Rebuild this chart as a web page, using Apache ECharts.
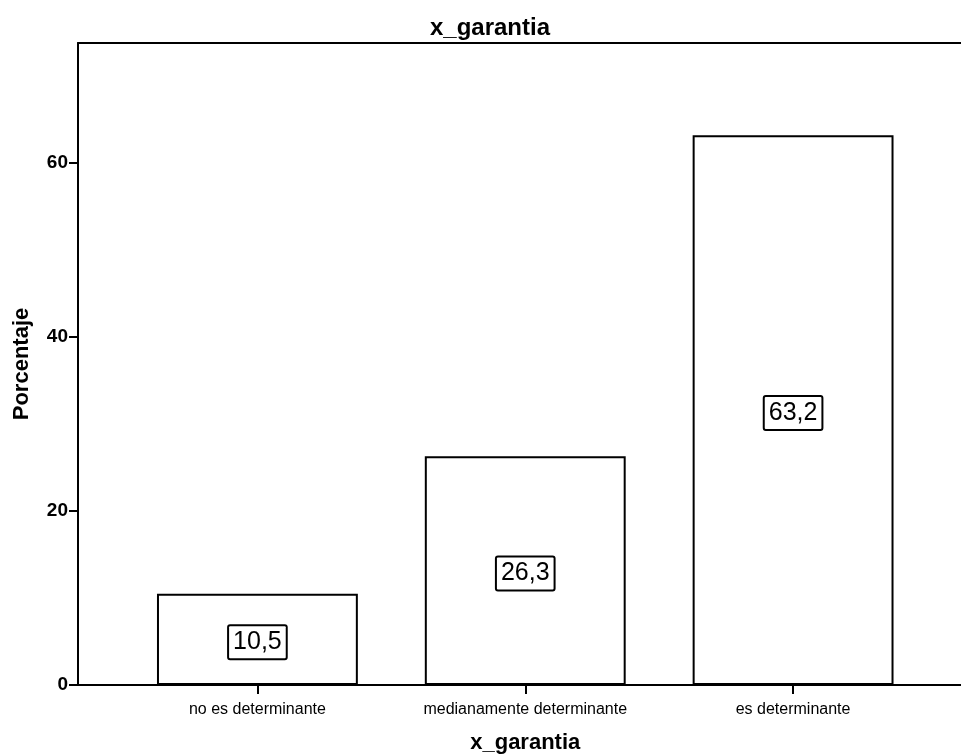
<!DOCTYPE html>
<html>
<head>
<meta charset="utf-8">
<script src="https://cdn.jsdelivr.net/npm/echarts@6/dist/echarts.min.js"></script>
<style>
html,body{margin:0;padding:0;background:#fff;}
#c{width:961px;height:755px;}
</style>
</head>
<body>
<div id="c"></div>
<script>
var categories = ['no es determinante', 'medianamente determinante', 'es determinante'];
var percentages = [10.5, 26.3, 63.2];
var yTicks = [0, 20, 40, 60];
var chartTitle = 'x_garantia';
var xTitle = 'x_garantia';
var yTitle = 'Porcentaje';

var FONT = 'Liberation Sans, Arial, sans-serif';
var Y_MAX = 73.8;

var chart = echarts.init(document.getElementById('c'), null, {renderer: 'canvas'});
chart.setOption({
  backgroundColor: '#ffffff',
  animation: false,
  title: {
    text: chartTitle,
    left: 485, top: 11,
    textAlign: 'center',
    textStyle: {fontFamily: FONT, fontWeight: 'bold', fontSize: 24, color: '#000'}
  },
  grid: [
    {left: 78, right: -10, top: 43, bottom: 70, show: false, outerBoundsMode: 'none', containLabel: false},
    {left: 123.5, right: 34, top: 43, bottom: 70, show: false, outerBoundsMode: 'none', containLabel: false}
  ],
  xAxis: [
    {gridIndex: 0, type: 'value', min: 0, max: 1, position: 'bottom',
     axisLine: {show: true, lineStyle: {color: '#000', width: 2}},
     axisTick: {show: false}, axisLabel: {show: false}, splitLine: {show: false}},
    {gridIndex: 0, type: 'value', min: 0, max: 1, position: 'top',
     axisLine: {show: true, onZero: false, lineStyle: {color: '#000', width: 2}},
     axisTick: {show: false}, axisLabel: {show: false}, splitLine: {show: false}},
    {gridIndex: 1, type: 'category', data: categories, position: 'bottom',
     name: xTitle, nameLocation: 'middle', nameGap: 47,
     nameTextStyle: {fontFamily: FONT, fontWeight: 'bold', fontSize: 22, color: '#000'},
     axisLine: {show: false},
     axisTick: {show: true, alignWithLabel: true, length: 9, lineStyle: {color: '#000', width: 2}},
     axisLabel: {show: true, margin: 17, fontFamily: FONT, fontSize: 16, color: '#000'},
     splitLine: {show: false}}
  ],
  yAxis: [
    {gridIndex: 0, type: 'value', min: 0, max: Y_MAX, interval: 20,
     name: yTitle, nameLocation: 'middle', nameRotate: 90, nameGap: 45,
     nameTextStyle: {fontFamily: FONT, fontWeight: 'bold', fontSize: 22, color: '#000'},
     axisLine: {show: true, lineStyle: {color: '#000', width: 2}},
     axisTick: {show: true, length: 9, lineStyle: {color: '#000', width: 2}},
     axisLabel: {show: true, margin: 10, fontFamily: FONT, fontWeight: 'bold', fontSize: 19, color: '#000',
       showMaxLabel: false,
       formatter: function (v) { return yTicks.indexOf(v) >= 0 ? String(v) : ''; }},
     splitLine: {show: false}},
    {gridIndex: 1, type: 'value', min: 0, max: Y_MAX, show: false, splitLine: {show: false}}
  ],
  series: [{
    type: 'bar',
    xAxisIndex: 2, yAxisIndex: 1,
    data: percentages,
    barWidth: '75%',
    itemStyle: {color: '#ffffff', borderColor: '#000', borderWidth: 2},
    label: {
      show: true, position: 'inside',
      formatter: function (p) { return p.value.toFixed(1).replace('.', ','); },
      fontFamily: FONT, fontSize: 25, color: '#000',
      backgroundColor: '#fff', borderColor: '#000', borderWidth: 2, borderRadius: 1,
      padding: [4, 4, 3, 4], offset: [0, 3]
    }
  }]
});
</script>
</body>
</html>
